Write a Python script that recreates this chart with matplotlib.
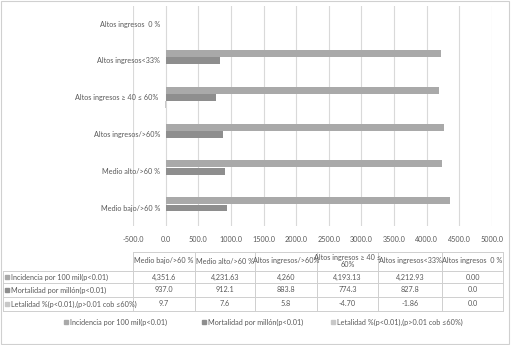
import matplotlib
matplotlib.use("Agg")
import matplotlib.pyplot as plt
from matplotlib.patches import Rectangle
from matplotlib.lines import Line2D

plt.rcParams['font.family'] = ['Lato', 'DejaVu Sans']

# categorias (orden de la tabla, de abajo hacia arriba en el grafico)
categorias = ['Medio bajo/>60 %', 'Medio alto/>60 %', 'Altos ingresos/>60%',
              'Altos ingresos ≥ 40 ≤ 60% ', 'Altos ingresos<33%', 'Altos ingresos  0 %']
encabezados = ['Medio bajo/>60 %', 'Medio alto/>60 %', 'Altos ingresos/>60%',
               'Altos ingresos ≥ 40 ≤\n60%', 'Altos ingresos<33%', 'Altos ingresos  0 %']

series = ['Incidencia por 100 mil(p<0.01)',
          'Mortalidad por millón(p<0.01)',
          'Letalidad %(p<0.01),(p>0.01 cob ≤60%)']
incidencia = ['4,351.6', '4,231.63', '4,260', '4,193.13', '4,212.93', '0.00']
mortalidad = ['937.0', '912.1', '883.8', '774.3', '827.8', '0.0']
letalidad = ['9.7', '7.6', '5.8', '-4.70', '-1.86', '0.0']

xticks = [-500, 0, 500, 1000, 1500, 2000, 2500, 3000, 3500, 4000, 4500, 5000]
colores = ['#a9a9a9', '#8e8e8e', '#c8c8c8']
gris = '#595959'
fs = 5.2

W, H = 511, 345
fig = plt.figure(figsize=(W / 100, H / 100), dpi=100)
fig.patch.set_facecolor('white')

def fx(px):
    return px / W

def fy(py):
    return 1 - py / H

ax = fig.add_axes([fx(133), fy(226.4), fx(492) - fx(133), fy(5.6) - fy(226.4)])

datos = [incidencia, mortalidad, letalidad]
offsets = [0.2, 0.0, -0.2]
ypos = list(range(len(categorias)))
for vals, off, col in zip(datos, offsets, colores):
    v = [float(s.replace(',', '')) for s in vals]
    ax.barh([y + off for y in ypos], v, height=0.19, color=col, zorder=3)

ax.set_xlim(-500, 5000)
ax.set_ylim(-0.5, 5.5)
ax.set_xticks(xticks)
ax.set_xticklabels([f'{t:.1f}' for t in xticks])
ax.set_yticks([])
ax.tick_params(axis='both', length=0, labelsize=fs, labelcolor=gris)
ax.tick_params(axis='x', pad=7)
ax.grid(axis='x', color='#d9d9d9', linewidth=0.8, zorder=0)
for s in ax.spines.values():
    s.set_visible(False)

# etiquetas junto al eje en x = 0 (como Excel)
for y, c in zip(ypos, categorias):
    ax.annotate(c, xy=(0, y), xytext=(-4, 0), textcoords='offset points',
                ha='right', va='center', fontsize=fs, color=gris, zorder=4)

# tabla de datos
col_x = [133, 195, 255, 317, 378, 442, 503]
row_y = [252, 271, 283, 297, 311]
lc = '#cfcfcf'
lw = 0.7
fig.add_artist(Line2D([fx(133), fx(503)], [fy(252), fy(252)], color=lc, lw=lw))
for yy in row_y[1:]:
    fig.add_artist(Line2D([fx(3), fx(503)], [fy(yy), fy(yy)], color=lc, lw=lw))
fig.add_artist(Line2D([fx(3), fx(3)], [fy(271), fy(311)], color=lc, lw=lw))
for xx in col_x:
    fig.add_artist(Line2D([fx(xx), fx(xx)], [fy(252), fy(311)], color=lc, lw=lw))

for i, h in enumerate(encabezados):
    cx = (col_x[i] + col_x[i + 1]) / 2
    fig.text(fx(cx), fy(261), h, ha='center', va='center', fontsize=fs,
             color=gris, linespacing=1.1)

for r, (nombre, vals, col) in enumerate(zip(series, datos, colores)):
    cy = (row_y[r + 1] + row_y[r + 2]) / 2
    fig.add_artist(Rectangle((fx(5), fy(cy + 2)), fx(4), 4 / H, color=col,
                             transform=fig.transFigure))
    fig.text(fx(11), fy(cy), nombre, ha='left', va='center', fontsize=fs, color=gris)
    for i, s in enumerate(vals):
        cx = (col_x[i] + col_x[i + 1]) / 2
        fig.text(fx(cx), fy(cy), s, ha='center', va='center', fontsize=fs, color=gris)

# leyenda
ley_x = [64, 202, 331]
for x0, nombre, col in zip(ley_x, series, colores):
    fig.add_artist(Rectangle((fx(x0), fy(324)), fx(4), 4 / H, color=col,
                             transform=fig.transFigure))
    fig.text(fx(x0 + 6), fy(322), nombre, ha='left', va='center', fontsize=fs, color=gris)

fig.add_artist(Rectangle((0.001, 0.002), 0.996, 0.996, fill=False, edgecolor='#d0d0d0',
                         lw=0.8, transform=fig.transFigure))

fig.savefig('out.png', dpi=100)
